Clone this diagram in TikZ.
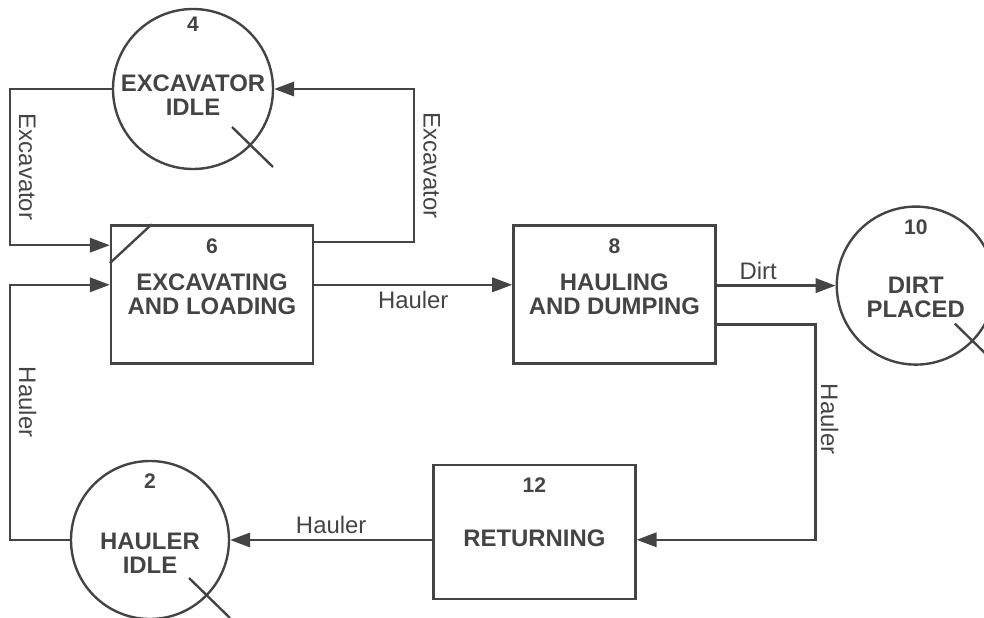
\documentclass[tikz,border=0pt]{standalone}
\usepackage{fontspec}
\setmainfont{Liberation Sans}
\usetikzlibrary{positioning,arrows.meta}
\definecolor{ink}{HTML}{444444}

\begin{document}
\begin{tikzpicture}[node distance=2cm,
    activity/.style={rectangle, draw=ink, line width=1.7pt, minimum width=5.05cm, minimum height=3.45cm, align=center, text=ink, font=\bfseries\fontsize{17}{17}\selectfont},
    queue/.style={circle, draw=ink, line width=1.7pt, minimum size=3.95cm, inner sep=0pt, align=center, text=ink, font=\bfseries\fontsize{17}{17}\selectfont},
    lower/.style={execute at begin node={\rule{0pt}{#1}}},
    num/.style={anchor=north, inner sep=0pt, yshift=-0.35cm, text=ink, font=\bfseries\fontsize{15}{15}\selectfont},
    flow/.style={draw=ink, line width=1.7pt, -{Triangle[length=0.5cm, width=0.36cm]}},
    lbl/.style={text=ink, font=\fontsize{17}{17}\selectfont},
    side/.style={lbl, rotate=-90, anchor=south, inner ysep=0.2cm},
    slash/.style={draw=ink, line width=1.7pt}]

    \useasboundingbox (0,0) rectangle (24.6,-15.45);

    \node[queue, lower=38pt, minimum size=4cm, label={[num, yshift=0.13cm]north:4}] (excidle) at (4.825,-2.225) {EXCAVATOR\\IDLE};
    \node[activity, label={[num]north:6}] (exload) at (5.3,-7.36) {EXCAVATING\\AND LOADING};
    \node[activity, right=4.95cm of exload, label={[num]north:8}] (hauldump) {HAULING\\AND DUMPING};
    \node[queue, lower=45pt, right=2.975cm of hauldump, yshift=0.22cm, label={[num]north:10}] (dirtplaced) {DIRT\\PLACED};
    \node[activity, lower=21pt, below=2.475cm of hauldump, xshift=-2cm, minimum height=3.35cm, label={[num]north:12}] (returning) {RETURNING};
    \node[queue, lower=48pt, label={[num]north:2}] (haulidle) at (3.75,-13.5) {HAULER\\IDLE};

    \draw[slash] ([shift={(0.975,-0.95)}]excidle.center) -- ++(1.025,-1);
    \draw[slash] ([shift={(0.975,-0.95)}]haulidle.center) -- ++(1.025,-1);
    \draw[slash] ([shift={(0.975,-0.95)}]dirtplaced.center) -- ++(1.025,-1);
    \draw[slash] ([yshift=-0.975cm]exload.north west) -- ([xshift=1.05cm]exload.north west);

    \draw[flow] (excidle.west) -- ++(-2.55,0) |- node[side, pos=0.25] {Excavator} ([yshift=-0.525cm]exload.north west);
    \draw[flow] ([yshift=-0.45cm]exload.north east) -- ++(2.5,0) |- node[side, pos=0.25] {Excavator} (excidle.east);
    \draw[flow] ([yshift=0.24cm]exload.east) -- node[lbl, below] {Hauler} ([yshift=0.24cm]exload.east -| hauldump.west);
    \draw[flow] (hauldump.east |- dirtplaced.west) -- node[lbl, above, pos=0.35] {Dirt} (dirtplaced.west);
    \draw[flow] ([yshift=-0.75cm]hauldump.east) -- ++(2.475,0) |- node[side, pos=0.22, inner ysep=0.1cm] {Hauler} ([yshift=-0.2cm]returning.east);
    \draw[flow] (returning.west |- haulidle.east) -- node[lbl, above] {Hauler} (haulidle.east);
    \draw[flow] (haulidle.west) -- ++(-1.5,0) |- node[side, pos=0.27] {Hauler} ([yshift=0.24cm]exload.west);
\end{tikzpicture}
\end{document}
